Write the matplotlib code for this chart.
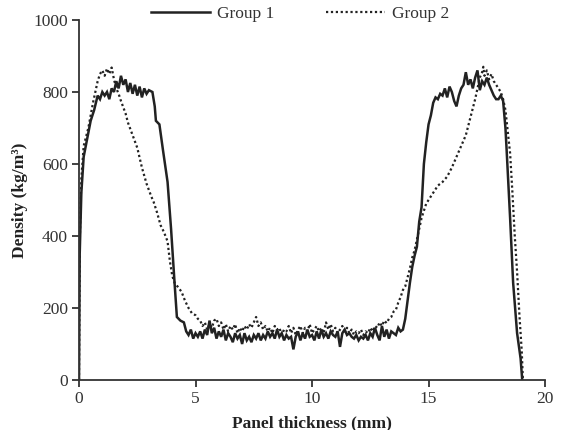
import matplotlib
matplotlib.use("Agg")
import matplotlib.pyplot as plt

plt.rcParams['font.family'] = ['Liberation Serif', 'DejaVu Serif']

# Group 1 (solid)
g1_x = [0.0, 0.03, 0.1, 0.2, 0.35, 0.5, 0.65, 0.8, 0.9, 1.0, 1.1, 1.2, 1.3, 1.4, 1.5, 1.6, 1.7, 1.8, 1.9,
        2.0, 2.1, 2.2, 2.3, 2.4, 2.5, 2.6, 2.7, 2.8, 2.9, 3.0, 3.15, 3.25, 3.3, 3.45, 3.6, 3.8, 3.95, 4.1,
        4.2, 4.35, 4.5, 4.6, 4.7, 4.8,
        4.9, 5.0, 5.1, 5.2, 5.3, 5.4, 5.5, 5.6, 5.7, 5.8, 5.9, 6.0, 6.1, 6.2, 6.3, 6.4, 6.5, 6.6, 6.7, 6.8,
        6.9, 7.0, 7.1, 7.2, 7.3, 7.4, 7.5, 7.6, 7.7, 7.8, 7.9, 8.0, 8.1, 8.2, 8.3, 8.4, 8.5, 8.6, 8.7, 8.8,
        8.9, 9.0, 9.1, 9.2, 9.3, 9.4, 9.5, 9.6, 9.7, 9.8, 9.9, 10.0, 10.1, 10.2, 10.3, 10.4, 10.5, 10.6,
        10.7, 10.8, 10.9, 11.0, 11.1, 11.2, 11.3, 11.4, 11.5, 11.6, 11.7, 11.8, 11.9, 12.0, 12.1, 12.2,
        12.3, 12.4, 12.5, 12.6, 12.7, 12.8, 12.9, 13.0, 13.1, 13.2, 13.3, 13.4, 13.5, 13.6, 13.7, 13.8,
        13.9, 14.0, 14.1, 14.2, 14.3, 14.4, 14.5, 14.6, 14.7, 14.8, 14.9, 15.0, 15.1, 15.2, 15.3, 15.4,
        15.5, 15.6, 15.7, 15.8, 15.9, 16.0, 16.1, 16.2, 16.3, 16.4, 16.5, 16.6, 16.7, 16.8, 16.9, 17.0,
        17.1, 17.2, 17.3, 17.4, 17.5, 17.6, 17.7, 17.8, 17.9, 18.0, 18.1, 18.2, 18.3, 18.35, 18.5, 18.63,
        18.8, 18.95, 19.02]
g1_y = [0, 350, 520, 620, 670, 720, 750, 790, 780, 800, 790, 800, 780, 810, 800, 830, 810, 845, 820,
        835, 800, 825, 795, 820, 790, 815, 785, 810, 795, 805, 800, 760, 720, 710, 640, 550, 420, 270,
        175, 165, 160, 135, 125, 140,
        115, 130, 120, 135, 115, 140, 125, 165, 130, 145, 115, 135, 120, 140, 110, 130, 120, 105, 130, 115,
        125, 100, 130, 110, 120, 105, 125, 115, 130, 110, 125, 115, 135, 120, 130, 115, 140, 120, 130, 110,
        125, 115, 120, 85, 120, 135, 110, 130, 115, 140, 120, 125, 110, 135, 115, 140, 120, 130,
        115, 135, 125, 120, 135, 92, 130, 140, 125, 130, 120, 115, 125, 110, 120, 115,
        125, 110, 130, 120, 145, 125, 110, 150, 120, 140, 115, 135, 130, 125, 145, 135,
        140, 170, 220, 270, 314, 345, 370, 440, 480, 600, 660, 710, 735, 770, 785, 780,
        795, 790, 810, 785, 815, 800, 775, 760, 790, 810, 820, 855, 820, 835, 810, 840,
        860, 805, 830, 820, 840, 820, 805, 790, 780, 780, 790, 775, 700, 640, 450, 270,
        130, 60, 0]

# Group 2 (dotted)
g2_x = [0.0, 0.03, 0.1, 0.2, 0.4, 0.6, 0.7, 0.8, 0.9, 1.0, 1.1, 1.2, 1.3, 1.4, 1.5, 1.6, 1.7, 1.8,
        2.0, 2.1, 2.3, 2.5, 2.7, 2.9, 3.1, 3.2, 3.35, 3.5, 3.65, 3.8, 3.9, 4.0, 4.1, 4.25, 4.4, 4.55,
        4.7, 4.85,
        5.0, 5.1, 5.2, 5.3, 5.4, 5.5, 5.6, 5.7, 5.8, 5.9, 6.0, 6.1, 6.2, 6.3, 6.4, 6.5, 6.6, 6.7, 6.8,
        6.9, 7.0, 7.1, 7.2, 7.3, 7.4, 7.5, 7.6, 7.7, 7.8, 7.9, 8.0, 8.1, 8.2, 8.3, 8.4, 8.5, 8.6, 8.7,
        8.8, 8.9, 9.0, 9.1, 9.2, 9.3, 9.4, 9.5, 9.6, 9.7, 9.8, 9.9, 10.0, 10.1, 10.2, 10.3, 10.4, 10.5,
        10.6, 10.7, 10.8, 10.9, 11.0, 11.1, 11.2, 11.3, 11.4, 11.5, 11.6, 11.7, 11.8, 11.9, 12.0, 12.1,
        12.2, 12.3, 12.4, 12.5, 12.6, 12.7, 12.8, 12.9, 13.0, 13.1, 13.2, 13.3, 13.4, 13.5, 13.6, 13.7,
        13.8, 13.9, 14.0, 14.1, 14.2, 14.3, 14.4, 14.5, 14.6, 14.7, 14.8, 14.9, 15.0, 15.2, 15.4, 15.6,
        15.8, 16.0, 16.2, 16.4, 16.6, 16.8, 17.0, 17.1, 17.2, 17.3, 17.35, 17.4, 17.5, 17.6, 17.7, 17.8,
        17.9, 18.0, 18.1, 18.2, 18.3, 18.4, 18.5, 18.6, 18.7, 18.8, 18.9, 19.0, 19.05]
g2_y = [0, 380, 560, 650, 700, 770, 800, 830, 850, 860, 845, 865, 850, 868, 835, 810, 795, 775,
        740, 715, 680, 645, 590, 545, 510, 495, 465, 430, 410, 385, 330, 290, 270, 258, 245, 220,
        200, 185,
        180, 170, 165, 150, 160, 140, 155, 145, 165, 170, 150, 160, 140, 155, 135, 150, 140, 155, 130,
        145, 135, 150, 140, 155, 145, 160, 175, 150, 160, 140, 150, 135, 145, 130, 150, 140, 145, 125,
        140, 135, 150, 130, 145, 125, 140, 150, 130, 145, 135, 155, 130, 140, 150, 135, 145, 130,
        160, 140, 155, 135, 145, 130, 140, 150, 135, 145, 130, 140, 125, 135, 130, 140,
        125, 135, 130, 145, 135, 150, 145, 160, 150, 165, 158, 170, 175, 190, 195, 215,
        230, 250, 260, 285, 310, 340, 360, 390, 420, 450, 470, 490, 500, 520, 540, 550,
        565, 590, 620, 650, 680, 730, 780, 810, 840, 855, 870, 845, 860, 835, 850, 830,
        820, 810, 800, 780, 750, 690, 630, 520, 400, 300, 180, 80, 0]

x_ticks = [0, 5, 10, 15, 20]
y_ticks = [0, 200, 400, 600, 800, 1000]

fig = plt.figure(figsize=(5.66, 4.30), dpi=100)
ax = fig.add_axes([0.1396, 0.1163, 0.8234, 0.8372])

c = '#222222'
l1, = ax.plot(g1_x, g1_y, color=c, lw=1.8, solid_joinstyle='miter', label='Group 1')
l2, = ax.plot(g2_x, g2_y, color=c, lw=1.6, linestyle=(0, (1, 1.2)), label='Group 2')

ax.set_xlim(0, 20)
ax.set_ylim(0, 1000)
ax.set_xticks(x_ticks)
ax.set_yticks(y_ticks)
ax.spines['top'].set_visible(False)
ax.spines['right'].set_visible(False)
for s in ('left', 'bottom'):
    ax.spines[s].set_linewidth(1.3)
    ax.spines[s].set_color('#333333')
ax.tick_params(direction='out', length=5, width=1.3, color='#333333',
               labelsize=12.5, labelcolor='#333333', pad=3)

ax.set_xlabel('Panel thickness (mm)', fontsize=12.5, fontweight='bold', color='#222222', labelpad=6)
ax.set_ylabel('Density (kg/m³)', fontsize=12.5, fontweight='bold', color='#222222', labelpad=4)

fig.legend(handles=[l1, l2], loc='center', bbox_to_anchor=(0.53, 0.967), ncol=2, frameon=False,
           fontsize=12.5, handlelength=3.4, columnspacing=3.0, handletextpad=0.4,
           labelcolor='#333333')

fig.savefig('out.png', dpi=100)
